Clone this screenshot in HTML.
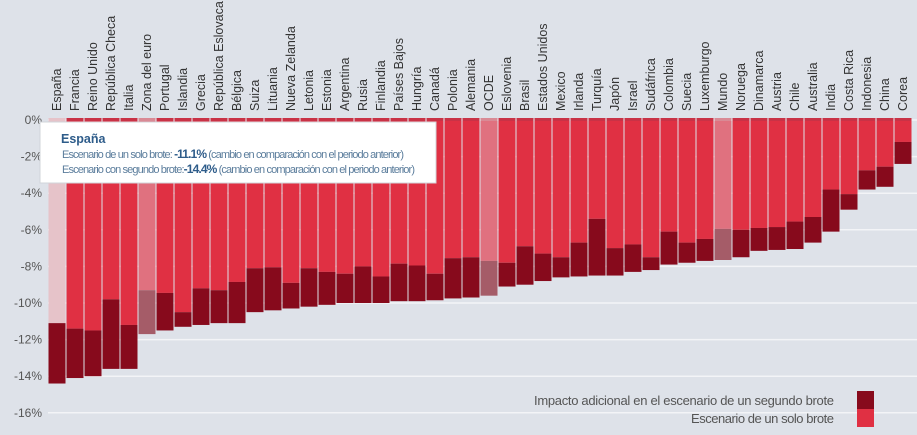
<!DOCTYPE html>
<html><head><meta charset="utf-8"><style>
body{margin:0;background:#dee2e9;font-family:"Liberation Sans",sans-serif;}
svg{display:block}
</style></head><body>
<svg id="c" width="917" height="435"></svg>
<script>
const categories=["España","Francia","Reino Unido","República Checa","Italia","Zona del euro","Portugal","Islandia","Grecia","República Eslovaca","Bélgica","Suiza","Lituania","Nueva Zelanda","Letonia","Estonia","Argentina","Rusia","Finlandia","Países Bajos","Hungría","Canadá","Polonia","Alemania","OCDE","Eslovenia","Brasil","Estados Unidos","Mexico","Irlanda","Turquía","Japón","Israel","Sudáfrica","Colombia","Suecia","Luxemburgo","Mundo","Noruega","Dinamarca","Austria","Chile","Australia","India","Costa Rica","Indonesia","China","Corea"];
const singleOutbreak=[-11.1,-11.4,-11.5,-9.8,-11.2,-9.3,-9.45,-10.5,-9.2,-9.3,-8.85,-8.1,-8.05,-8.9,-8.1,-8.3,-8.4,-8.0,-8.55,-7.85,-7.95,-8.4,-7.55,-7.5,-7.7,-7.8,-6.9,-7.3,-7.5,-6.7,-5.4,-7.0,-6.8,-7.5,-6.1,-6.7,-6.5,-5.95,-6.0,-5.9,-5.85,-5.55,-5.3,-3.8,-4.05,-2.75,-2.55,-1.2];
const secondOutbreak=[-14.4,-14.1,-14.0,-13.6,-13.6,-11.7,-11.5,-11.3,-11.2,-11.1,-11.1,-10.5,-10.4,-10.3,-10.2,-10.1,-10.0,-10.0,-10.0,-9.9,-9.9,-9.85,-9.75,-9.7,-9.6,-9.1,-9.0,-8.8,-8.6,-8.55,-8.5,-8.5,-8.3,-8.2,-7.9,-7.8,-7.7,-7.65,-7.5,-7.15,-7.1,-7.05,-6.7,-6.1,-4.9,-3.8,-3.65,-2.4];
const yTicks=[0,-2,-4,-6,-8,-10,-12,-14,-16];
const highlighted=["Zona del euro","OCDE","Mundo"];
const NS="http://www.w3.org/2000/svg";
const svg=document.getElementById('c');
const x0=48.5,step=18,bw=17;
const y=v=>120+(-v)*18.3;
const x=i=>x0+i*step;
function mk(t,a){const e=document.createElementNS(NS,t);for(const k in a)e.setAttribute(k,a[k]);svg.appendChild(e);return e;}
yTicks.forEach(t=>{
  const g=mk('line',{x1:48,x2:917,y1:y(t),y2:y(t),stroke:'#f3f4f7','stroke-width':1.5});
  
  
  const tx=mk('text',{x:42,y:y(t)+4,'text-anchor':'end','font-size':12,fill:'#555'});
  tx.textContent=t+'%';
  
  
});
categories.forEach((c,i)=>{
  const hl=highlighted.includes(c), sp=i===0;
  const l=mk('rect',{x:x(i),y:y(0),width:bw,height:y(singleOutbreak[i])-y(0),fill:sp?'#e6c3c9':hl?'#e0717f':'#e03043'});
  
  
  const d=mk('rect',{x:x(i),y:y(singleOutbreak[i]),width:bw,height:y(secondOutbreak[i])-y(singleOutbreak[i]),fill:hl?'#a55c68':'#870a1c'});
  
  
  const tp=mk('rect',{x:x(i),y:y(0)-2,width:bw,height:3,fill:sp?'#e6c3c9':hl?'#d98a95':'#c93246'});
  
  
  const cx=x(i)+bw/2+4;
  const tx=mk('text',{x:cx,y:111,'font-size':12.5,fill:'#333',transform:`rotate(-90 ${cx} 111)`});
  tx.textContent=c;
  
  
});
// tooltip
const tb=mk('rect',{x:40,y:122,width:396,height:61,fill:'#fff',stroke:'#d0d4da'});


const t1=mk('text',{x:61,y:143,'font-size':12.5,'font-weight':'bold',fill:'#2e5c8a'});t1.textContent='España';


const l1=mk('text',{x:62,y:158,'font-size':11,fill:'#5b7d9c',textLength:342});
l1.innerHTML='Escenario de un solo brote: <tspan font-weight="bold" fill="#2e5c8a" font-size="12">-11.1%</tspan> (cambio en comparación con el periodo anterior)';


const l2=mk('text',{x:62,y:173,'font-size':11,fill:'#5b7d9c',textLength:353});
l2.innerHTML='Escenario con segundo brote:<tspan font-weight="bold" fill="#2e5c8a" font-size="12">-14.4%</tspan> (cambio en comparación con el periodo anterior)';


// legend
const la=mk('text',{x:834,y:405,'text-anchor':'end','font-size':13,fill:'#555',textLength:300});
la.textContent='Impacto adicional en el escenario de un segundo brote';


const lb=mk('text',{x:834,y:423,'text-anchor':'end','font-size':13,fill:'#555',textLength:143});
lb.textContent='Escenario de un solo brote';


const sa=mk('rect',{x:857,y:391,width:17,height:18,fill:'#870a1c'});


const sb=mk('rect',{x:857,y:409,width:17,height:18,fill:'#e03043'});


</script>
</body></html>
